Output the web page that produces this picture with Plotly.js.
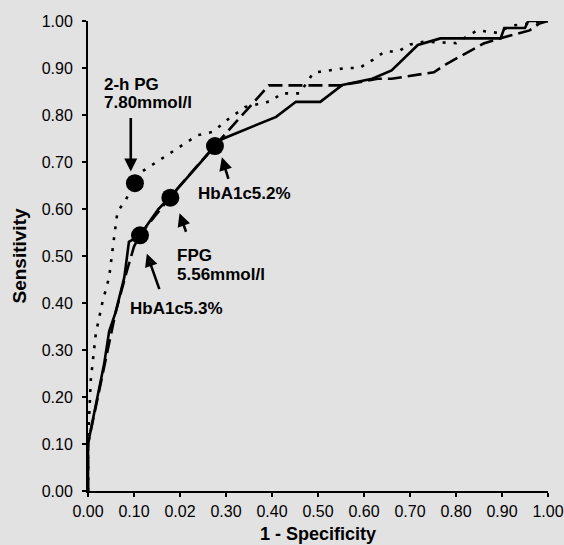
<!DOCTYPE html>
<html>
<head>
<meta charset="utf-8">
<script src="https://cdn.plot.ly/plotly-3.0.1.min.js"></script>
<style>
html,body{margin:0;padding:0;background:#e2e2e2;}
#chart{width:564px;height:545px;}
</style>
</head>
<body>
<div id="chart"></div>
<script>
// HbA1c (solid)
const hba1cX = [0, 0, 0.006, 0.024, 0.035, 0.046, 0.06, 0.079, 0.089, 0.113, 0.153, 0.179, 0.276, 0.292, 0.409, 0.452, 0.505, 0.553, 0.618, 0.66, 0.717, 0.766, 0.897, 0.905, 0.95, 0.957, 1.0];
const hba1cY = [0, 0.10, 0.13, 0.22, 0.27, 0.34, 0.38, 0.455, 0.53, 0.544, 0.60, 0.626, 0.734, 0.749, 0.796, 0.828, 0.828, 0.864, 0.877, 0.895, 0.949, 0.963, 0.963, 0.985, 0.985, 1.0, 1.0];
// FPG (dashed)
const fpgX = [0, 0, 0.03, 0.06, 0.085, 0.10, 0.113, 0.179, 0.276, 0.393, 0.55, 0.63, 0.66, 0.752, 0.78, 0.86, 0.895, 0.96, 0.98, 1.0];
const fpgY = [0, 0.10, 0.24, 0.38, 0.47, 0.52, 0.545, 0.626, 0.735, 0.863, 0.863, 0.877, 0.877, 0.891, 0.909, 0.952, 0.963, 0.98, 0.994, 1.0];
// 2-h PG (dotted)
const pgX = [0, 0, 0.006, 0.017, 0.031, 0.046, 0.055, 0.064, 0.082, 0.10, 0.118, 0.156, 0.184, 0.238, 0.271, 0.306, 0.342, 0.40, 0.42, 0.46, 0.49, 0.56, 0.59, 0.62, 0.645, 0.674, 0.70, 0.73, 0.80, 0.846, 0.89, 0.92, 1.0];
const pgY = [0, 0.10, 0.236, 0.335, 0.40, 0.455, 0.526, 0.594, 0.619, 0.655, 0.68, 0.704, 0.721, 0.757, 0.764, 0.792, 0.817, 0.83, 0.846, 0.846, 0.89, 0.90, 0.90, 0.918, 0.935, 0.935, 0.95, 0.956, 0.953, 0.98, 0.975, 0.99, 1.0];
// cut-off points
const cutX = [0.102, 0.113, 0.179, 0.276];
const cutY = [0.655, 0.544, 0.624, 0.734];

const xTickVals = [0, 0.1, 0.2, 0.3, 0.4, 0.5, 0.6, 0.7, 0.8, 0.9, 1.0];
const xTickText = ['0.00', '0.10', '0.02', '0.30', '0.40', '0.50', '0.60', '0.70', '0.80', '0.90', '1.00'];
const yTickVals = [0, 0.1, 0.2, 0.3, 0.4, 0.5, 0.6, 0.7, 0.8, 0.9, 1.0];
const yTickText = ['0.00', '0.10', '0.20', '0.30', '0.40', '0.50', '0.60', '0.70', '0.80', '0.90', '1.00'];

// label texts with arrow heads (data coords) and tail offsets
const labelTexts = ['2-h PG', '7.80mmol/l', 'HbA1c5.2%', 'FPG', '5.56mmol/l', 'HbA1c5.3%'];
const labelX = [0.031, 0.031, 0.234, 0.189, 0.189, 0.088];
const labelY = [0.864, 0.827, 0.634, 0.501, 0.460, 0.389];
const arrowX = [0.093, 0.291, 0.199, 0.128];
const arrowY = [0.680, 0.710, 0.591, 0.505];
const arrowAX = [0, 7, 7, 13];
const arrowAY = [-55, 23, 20, 37];

const FONT = 'Liberation Sans, Arial, Helvetica, sans-serif';

const traces = [
  {x: hba1cX, y: hba1cY, mode: 'lines', line: {color: '#000', width: 2.6}, name: 'HbA1c'},
  {x: fpgX, y: fpgY, mode: 'lines', line: {color: '#000', width: 2.6, dash: '14px,6px'}, name: 'FPG'},
  {x: pgX, y: pgY, mode: 'lines', line: {color: '#000', width: 2.6, dash: '3px,8px'}, name: '2-h PG'},
  {x: cutX, y: cutY, mode: 'markers', marker: {color: '#000', size: 18}, name: 'cut-off'}
];

const annotations = [];
for (let i = 0; i < labelTexts.length; i++) {
  annotations.push({
    x: labelX[i], y: labelY[i], xref: 'x', yref: 'y', text: '<b>' + labelTexts[i] + '</b>',
    showarrow: false, xanchor: 'left', yanchor: 'middle',
    font: {family: FONT, size: 17, color: '#000'}
  });
}
for (let i = 0; i < arrowX.length; i++) {
  annotations.push({
    x: arrowX[i], y: arrowY[i], xref: 'x', yref: 'y', text: '',
    showarrow: true, ax: arrowAX[i], ay: arrowAY[i],
    arrowhead: 2, arrowsize: 1, arrowwidth: 2.6, arrowcolor: '#000'
  });
}

const layout = {
  width: 564, height: 545,
  margin: {l: 88, r: 16, t: 21, b: 54},
  paper_bgcolor: '#e2e2e2', plot_bgcolor: '#e2e2e2',
  showlegend: false,
  font: {family: FONT, color: '#000', size: 16},
  xaxis: {
    range: [0, 1], tickvals: xTickVals, ticktext: xTickText,
    showgrid: false, zeroline: false, showline: true, linecolor: '#000', linewidth: 2,
    ticks: 'outside', ticklen: 4, tickwidth: 1.5, tickcolor: '#000',
    ticklabelstandoff: 1, ticklabeloverflow: 'allow',
    tickfont: {family: FONT, size: 16, color: '#000'},
    title: {text: '<b>1 - Specificity</b>', font: {family: FONT, size: 18, color: '#000'}, standoff: 8},
    automargin: false
  },
  yaxis: {
    range: [0, 1], tickvals: yTickVals, ticktext: yTickText,
    showgrid: false, zeroline: false, showline: true, linecolor: '#000', linewidth: 2,
    ticks: 'outside', ticklen: 4, tickwidth: 1.5, tickcolor: '#000',
    ticklabelstandoff: 6,
    tickfont: {family: FONT, size: 16, color: '#000'},
    title: {text: '<b>Sensitivity</b>', font: {family: FONT, size: 19, color: '#000'}, standoff: 10},
    automargin: false
  },
  annotations: annotations
};

Plotly.newPlot('chart', traces, layout, {displayModeBar: false, staticPlot: true});
</script>
</body>
</html>
